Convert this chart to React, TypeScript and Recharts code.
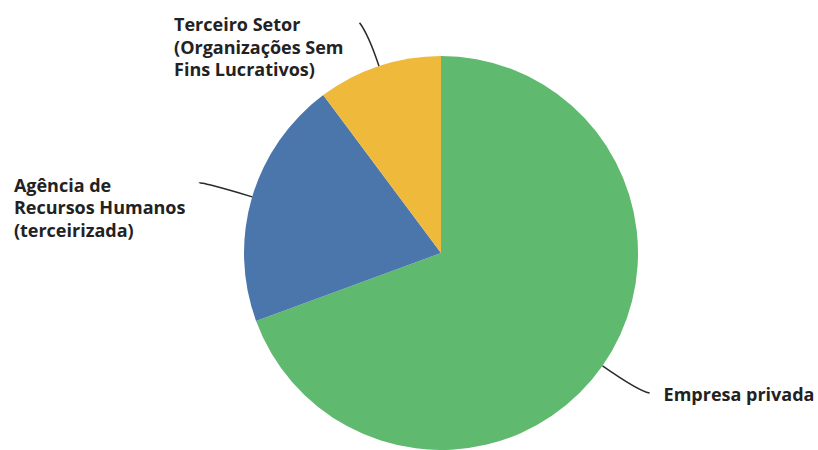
import { PieChart, Pie, Cell } from 'recharts'

const categories = [
  'Empresa privada',
  'Agência de Recursos Humanos (terceirizada)',
  'Terceiro Setor (Organizações Sem Fins Lucrativos)',
]
const labelRows = [
  ['Empresa privada'],
  ['Agência de', 'Recursos Humanos', '(terceirizada)'],
  ['Terceiro Setor', '(Organizações Sem', 'Fins Lucrativos)'],
]
const shares = [69.4, 20.4, 10.2]

const colors = ['#5fb96e', '#4b76ab', '#efb93b']

// leader line: radial run past the rim, then a small hook
const leaders = [
  { run: 44, hx: 11, hy: 2, side: 'right', gap: 14 },
  { run: 55, hx: 0, hy: 2, side: 'left', gap: 14 },
  { run: 33, hx: -9, hy: -12, side: 'left', gap: 16 },
]

const FONT = '700 18px "Open Sans"'
const LINE_H = 22.5

const data = categories.map((name, i) => ({ name, value: shares[i] }))

let ctx: CanvasRenderingContext2D | null = null
function textWidth(s: string) {
  if (!ctx) ctx = document.createElement('canvas').getContext('2d')
  if (!ctx) return s.length * 9
  ctx.font = FONT
  return ctx.measureText(s).width
}

const RAD = Math.PI / 180

function renderLabel(props: any) {
  const { cx, cy, midAngle, outerRadius, index } = props
  const cfg = leaders[index]
  const cos = Math.cos(-midAngle * RAD)
  const sin = Math.sin(-midAngle * RAD)
  const x0 = cx + outerRadius * cos
  const y0 = cy + outerRadius * sin
  const x1 = cx + (outerRadius + cfg.run) * cos
  const y1 = cy + (outerRadius + cfg.run) * sin
  const x2 = x1 + cfg.hx
  const y2 = y1 + cfg.hy
  const rows = labelRows[index]
  const blockW = Math.max(...rows.map(textWidth))
  const tx = cfg.side === 'right' ? x2 + cfg.gap : x2 - cfg.gap - blockW
  return (
    <g key={`lbl-${index}`}>
      <path
        d={`M${x0},${y0} Q${x1},${y1} ${x2},${y2}`}
        fill="none"
        stroke="#2a2a2a"
        strokeWidth={1.5}
      />
      <text
        x={tx}
        y={y2 + 8.5}
        fill="#222"
        style={{ font: FONT }}
        textAnchor="start"
      >
        {rows.map((r, k) => (
          <tspan key={k} x={tx} y={y2 + 8.5 + k * LINE_H}>
            {r}
          </tspan>
        ))}
      </text>
    </g>
  )
}

export default function App() {
  return (
    <div style={{ position: 'absolute', left: 0, top: 0, background: '#fff' }}>
      <PieChart width={818} height={450} margin={{ top: 0, right: 0, bottom: 0, left: 0 }}>
        <Pie
          data={data}
          dataKey="value"
          nameKey="name"
          cx={441}
          cy={253}
          outerRadius={197}
          startAngle={90}
          endAngle={-270}
          stroke="none"
          label={renderLabel}
          labelLine={false}
          isAnimationActive={false}
        >
          {data.map((d, i) => (
            <Cell key={d.name} fill={colors[i]} />
          ))}
        </Pie>
      </PieChart>
    </div>
  )
}
